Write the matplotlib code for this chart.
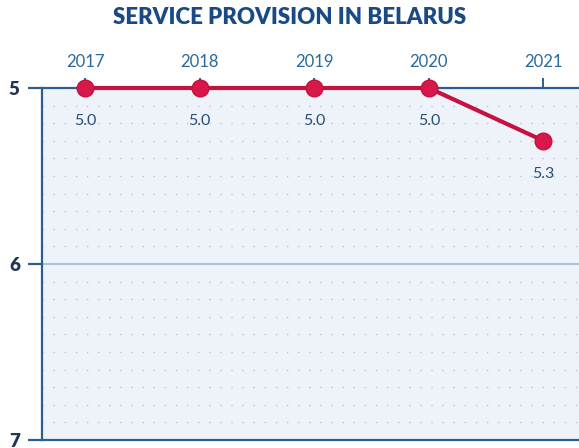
import matplotlib
matplotlib.use('Agg')
import matplotlib.pyplot as plt
import numpy as np

years = [2017, 2018, 2019, 2020, 2021]
scores = [5.0, 5.0, 5.0, 5.0, 5.3]
labels = ['5.0', '5.0', '5.0', '5.0', '5.3']
yticks = [5, 6, 7]

plt.rcParams['font.family'] = ['Lato', 'DejaVu Sans']

fig = plt.figure(figsize=(5.79, 4.48), dpi=100)
ax = fig.add_axes([42 / 579, 8 / 448, 1 - 42 / 579, 352 / 448])

ax.set_facecolor('#eef3fa')
ax.set_xlim(2016.625, 2021.31)
ax.set_ylim(7, 5)

# dotted minor grid every 0.1
for v in np.arange(5.1, 7.0, 0.1):
    if abs(v - 6) < 1e-6:
        continue
    ax.axhline(v, color='#b9c6d6', lw=1.0, ls=(0, (1, 7)), zorder=1)
ax.axhline(6, color='#a9c4dc', lw=1.5, zorder=1)

ax.plot(years, scores, color='#c5123f', lw=3, marker='o', ms=12,
        markerfacecolor='#d8174a', markeredgecolor='#c5123f', zorder=5,
        clip_on=False)
for x, y, s in zip(years, scores, labels):
    ax.annotate(s, (x, y), xytext=(0, -24), textcoords='offset points',
                ha='center', va='center', fontsize=11.5, color='#2a4d72')

ax.spines['right'].set_visible(False)
for side in ['left', 'top', 'bottom']:
    ax.spines[side].set_color('#2c5f8e')
    ax.spines[side].set_linewidth(1.6)

ax.xaxis.tick_top()
ax.set_xticks(years)
ax.set_xticklabels([str(y) for y in years])
ax.tick_params(axis='x', length=7, width=1.4, color='#2c5f8e',
               labelcolor='#2a6a9a', labelsize=12, pad=6)
ax.set_yticks(yticks)
ax.set_yticklabels([str(v) for v in yticks], fontweight='heavy')
ax.tick_params(axis='y', length=10, width=1.6, color='#2c5f8e',
               labelcolor='#1f3550', labelsize=13.5, pad=6)

fig.text(0.5, 1 - 17 / 448, 'SERVICE PROVISION IN BELARUS', ha='center',
         va='center', fontsize=16, fontweight='heavy', color='#1a4a86')

fig.savefig('out.png', dpi=100)
